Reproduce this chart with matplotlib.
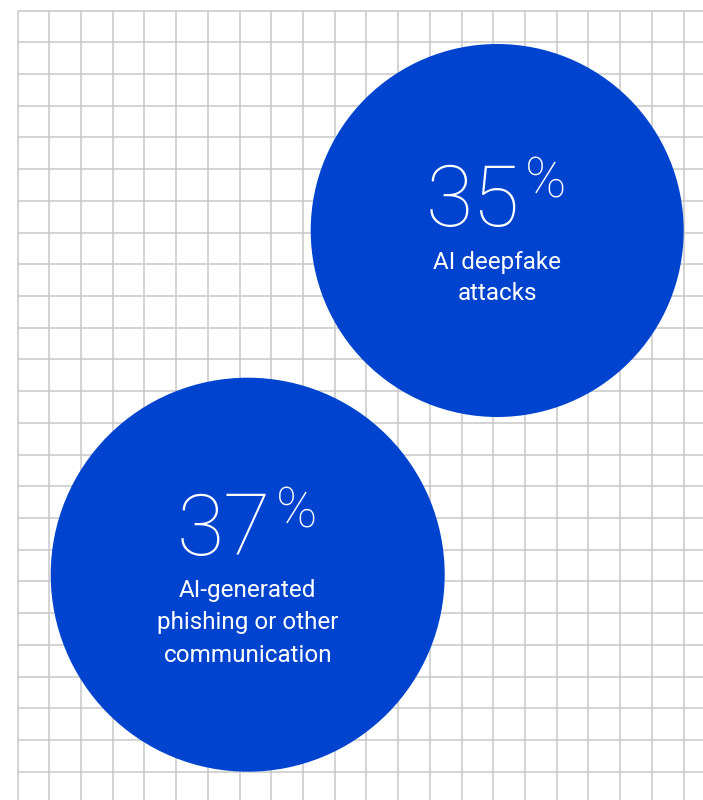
import numpy as np
import matplotlib.pyplot as plt
from matplotlib.patches import Circle

# share of respondents per AI threat type
values = [35, 37]
labels = [["AI deepfake", "attacks"],
          ["AI-generated", "phishing or other", "communication"]]

W, H = 703, 800
blue = "#0043ce"
grid_color = "#c8c8c8"

fig = plt.figure(figsize=(W / 100, H / 100), dpi=100)
ax = fig.add_axes([0, 0, 1, 1])
ax.set_xlim(0, W)
ax.set_ylim(H, 0)
ax.axis("off")

# graph-paper background
step = 31.72
x0, y0 = 17.5, 10.5
xs = np.arange(x0, W + 1, step)
ys = np.arange(y0, H + 1, step)
ax.vlines(xs, y0, H, color=grid_color, lw=1.1, zorder=1)
ax.hlines(ys, x0, W, color=grid_color, lw=1.1, zorder=1)

# bubble layout: (cx, cy, r, number x-centre, number baseline, label first baseline)
layout = [
    (497.2, 230.5, 186.5, 472.5, 226, 268.5),
    (247.7, 574.7, 197.0, 223.5, 555, 597.5),
]

font = "Roboto"
line_gap = 32
for v, lines, (cx, cy, r, nx, ny, ly) in zip(values, labels, layout):
    ax.add_patch(Circle((cx, cy), r, color=blue, zorder=2, lw=0))
    ax.text(nx, ny, str(v), color="white", fontsize=62, family=font,
            fontweight="light", ha="center", va="baseline", zorder=3)
    ax.text(nx + 52, ny - 28, "%", color="white", fontsize=40, family=font,
            fontweight="light", ha="left", va="baseline", zorder=3)
    for i, line in enumerate(lines):
        ax.text(cx, ly + i * line_gap, line, color="white", fontsize=17.5,
                family=font, ha="center", va="baseline", zorder=3)

fig.savefig("out.png", dpi=100)
